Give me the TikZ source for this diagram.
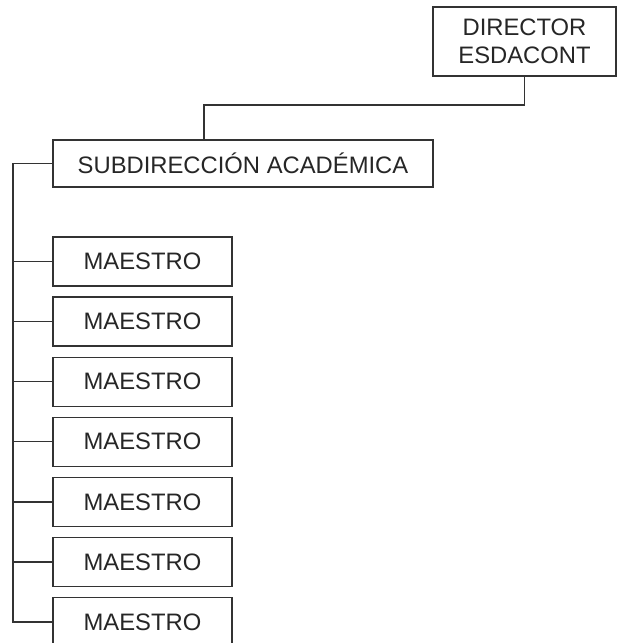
\documentclass[tikz,border=0pt]{standalone}
\usepackage{fontspec}
\setmainfont{Liberation Sans}
\begin{document}
\begin{tikzpicture}[x=1pt,y=-1pt,
  box/.style={draw=black!80,line width=1.3pt,fill=white,inner sep=0pt,align=center,
    font=\fontsize{23.8}{27.5}\selectfont,text=black!85},
  mbox/.style={box,minimum width=179pt,minimum height=49pt},
  link/.style={draw=black!80,line width=1.3pt}]
\useasboundingbox (0,0) rectangle (617,643);
\node[box,minimum width=183pt,minimum height=69pt] (dir) at (524.5,41.5) {DIRECTOR\\ESDACONT};
\node[box,minimum width=380pt,minimum height=47pt] (sub) at (243,163.5) {SUBDIRECCIÓN ACADÉMICA};
\foreach \i/\y in {1/261.5,2/321.6,3/381.7,4/441.8,5/501.9,6/562,7/622.1}{
  \node[mbox] (m\i) at (142.5,\y) {MAESTRO};
}
\coordinate (j) at (204,105);
\coordinate (sp) at (13,0);
\draw[link] (dir.south) |- (j) -- (sub.north -| j);
\draw[link] (sub.west) -- (sub.west -| sp) -- (m7.west -| sp) -- (m7.west);
\foreach \i in {1,...,6}{
  \draw[link] (m\i.west) -- (m\i.west -| sp);
}
\end{tikzpicture}
\end{document}
